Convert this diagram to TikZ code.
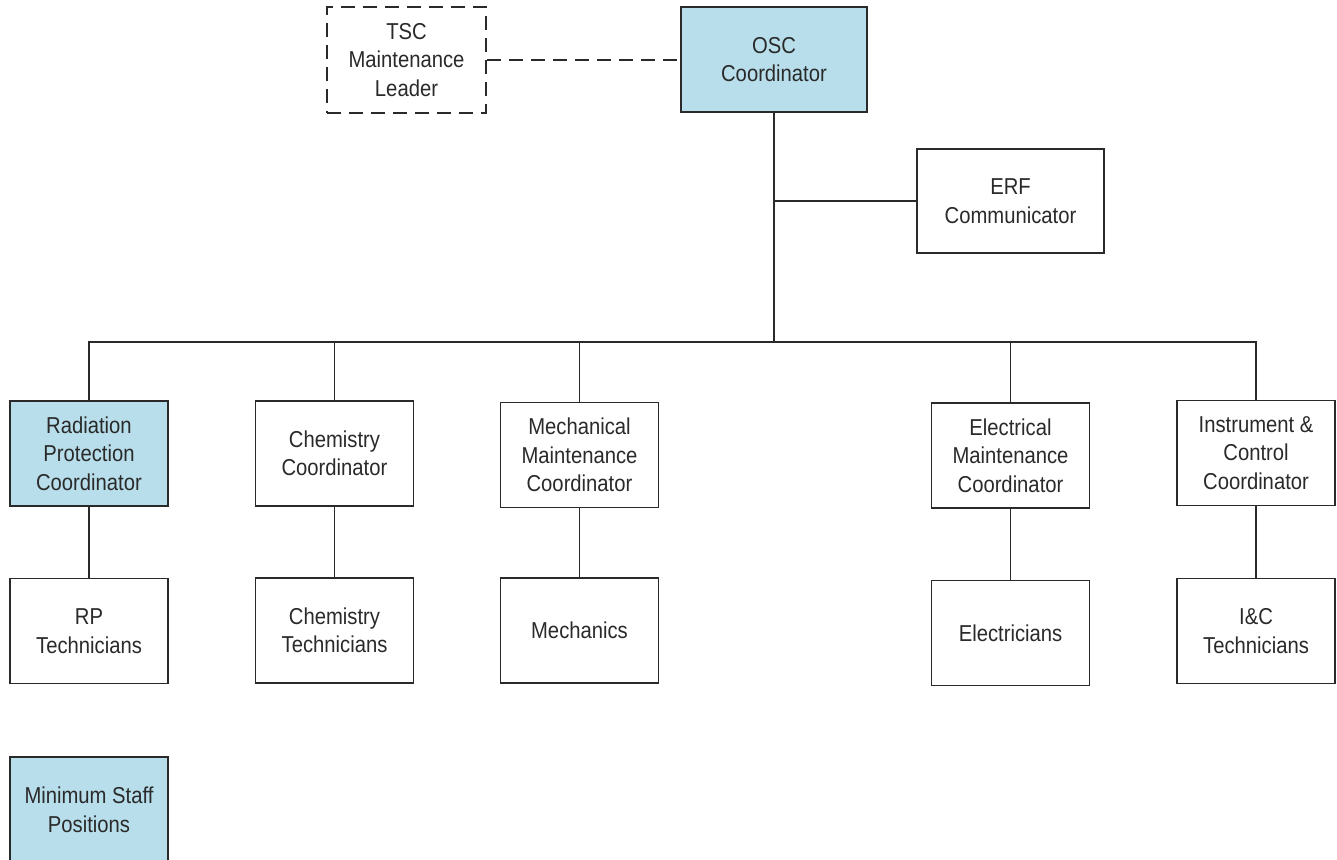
\documentclass[tikz,border=0pt]{standalone}
\usepackage{fontspec}
\setmainfont{Liberation Sans}[FakeStretch=0.88]
\definecolor{boxblue}{HTML}{B7DEEA}
\definecolor{ink}{HTML}{2A2A2A}
\begin{document}
\begin{tikzpicture}[x=1pt,y=-1pt,
  box/.style={draw=ink,line width=1.9pt,fill=white,minimum width=#1,minimum height=105pt,inner sep=0pt,align=center,
    font=\fontsize{23}{28.5}\selectfont,text=ink},
  box/.default=158pt,
  blue/.style={fill=boxblue},
  link/.style={draw=ink,line width=1.9pt},
  dlink/.style={draw=ink,line width=1.9pt,dash pattern=on 14pt off 8pt}]
\useasboundingbox (0,0) rectangle (1337,859);
\clip (0,0) rectangle (1337,859);
\node[box=159pt,dlink,minimum height=106pt] (tsc) at (406.5,60) {TSC\\Maintenance\\Leader};
\node[box=186pt,blue] (osc) at (774,59.5) {OSC\\Coordinator};
\node[box=187pt,minimum height=104pt] (erf) at (1010.5,201) {ERF\\Communicator};
\node[box,blue] (rpc) at (89,453.5) {Radiation\\Protection\\Coordinator};
\node[box] (chc) at (334.5,453.5) {Chemistry\\Coordinator};
\node[box] (mmc) at (579.5,455) {Mechanical\\Maintenance\\Coordinator};
\node[box] (emc) at (1010.5,455.5) {Electrical\\Maintenance\\Coordinator};
\node[box] (icc) at (1256,453) {Instrument \&\\Control\\Coordinator};
\node[box] (rpt) at (89,631) {RP\\Technicians};
\node[box] (cht) at (334.5,630.5) {Chemistry\\Technicians};
\node[box] (mec) at (579.5,630.5) {Mechanics};
\node[box] (ele) at (1010.5,633) {Electricians};
\node[box] (ict) at (1256,631) {I\&C\\Technicians};
\node[box,blue,minimum height=120pt] (min) at (89,817) {};
\node[font=\fontsize{23}{28.5}\selectfont,text=ink,align=center] (mintext) at (89,810) {Minimum Staff\\Positions};
\coordinate (bus) at (774,342);
\draw[dlink] (tsc.east) -- (tsc.east -| osc.west);
\draw[link] (osc.south) -- (bus);
\draw[link] (erf.west -| osc.south) -- (erf.west);
\draw[link] (bus) -| (rpc.north);
\draw[link] (bus) -| (chc.north);
\draw[link] (bus) -| (mmc.north);
\draw[link] (bus) -| (emc.north);
\draw[link] (bus) -| (icc.north);
\draw[link] (rpc) -- (rpt);
\draw[link] (chc) -- (cht);
\draw[link] (mmc) -- (mec);
\draw[link] (emc) -- (ele);
\draw[link] (icc) -- (ict);
\end{tikzpicture}
\end{document}
